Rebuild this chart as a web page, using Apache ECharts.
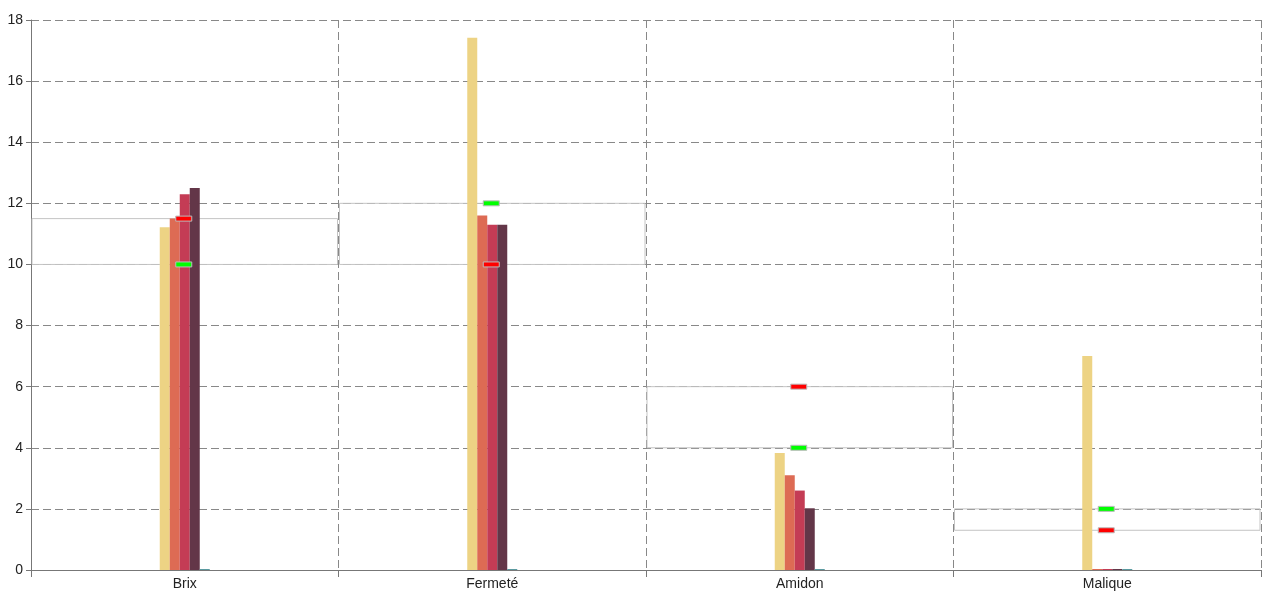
<!DOCTYPE html>
<html>
<head>
<meta charset="utf-8">
<script src="https://cdn.jsdelivr.net/npm/echarts@6/dist/echarts.min.js"></script>
<style>html,body{margin:0;padding:0;background:#fff}#c{width:1280px;height:600px}</style>
</head>
<body>
<div id="c"></div>
<script>
const categories = ['Brix', 'Fermeté', 'Amidon', 'Malique'];
const series1 = [11.22, 17.42, 3.83, 7.0];
const series2 = [11.5, 11.6, 3.1, 0];
const series3 = [12.3, 11.3, 2.6, 0];
const series4 = [12.5, 11.3, 2.02, 0];
const series5 = [0, 0, 0, 0];
const greenMarks = [10, 12, 4, 2];
const redMarks = [11.5, 10, 6, 1.3];
const colors = ['#EDD384', '#DD6B54', '#C43C55', '#633648', '#5B9AA0'];

const chart = echarts.init(document.getElementById('c'), null, {renderer: 'canvas'});
const barSeries = [series1, series2, series3, series4, series5].map((d, i) => ({
  type: 'bar', data: d, barWidth: 10, barGap: 0, barMinHeight: 1,
  itemStyle: {color: colors[i]}, z: 2, animation: false
}));
const boxData = categories.map((c, i) => [i, greenMarks[i], redMarks[i]]);

option = {
  animation: false,
  textStyle: {fontFamily: 'Liberation Sans, Arial, sans-serif'},
  grid: {left: 31, right: 19, top: 20, bottom: 30},
  xAxis: {
    type: 'category', data: categories, boundaryGap: true,
    axisLine: {lineStyle: {color: '#777'}},
    axisTick: {show: true, length: 7, lineStyle: {color: '#777'}},
    axisLabel: {color: '#222', fontSize: 14, margin: 7},
    splitLine: {show: true, lineStyle: {color: '#888', type: [8, 4]}}
  },
  yAxis: {
    type: 'value', min: 0, max: 18, interval: 2,
    axisLine: {show: true, lineStyle: {color: '#777'}},
    axisTick: {show: true, length: 5, lineStyle: {color: '#777'}},
    axisLabel: {color: '#222', fontSize: 14, margin: 8},
    splitLine: {show: true, lineStyle: {color: '#888', type: [8, 4]}}
  },
  series: barSeries.concat([
    {
      type: 'custom', z: 1, data: boxData, silent: true,
      renderItem: function (params, api) {
        const idx = api.value(0);
        const bw = api.size([1, 0])[0];
        const p1 = api.coord([idx, api.value(1)]);
        const p2 = api.coord([idx, api.value(2)]);
        const top = Math.min(p1[1], p2[1]);
        const h = Math.abs(p1[1] - p2[1]);
        return {
          type: 'rect',
          shape: {x: p1[0] - bw / 2 + 1, y: top, width: bw - 2, height: h},
          style: {fill: 'none', stroke: '#c4c4c4', lineWidth: 1}
        };
      }
    },
    {
      type: 'custom', z: 5, data: boxData, silent: true,
      renderItem: function (params, api) {
        const idx = api.value(0);
        const pg = api.coord([idx, api.value(1)]);
        const pr = api.coord([idx, api.value(2)]);
        return {
          type: 'group',
          children: [
            {type: 'rect', shape: {x: pg[0] - 9, y: pg[1] - 2.5, width: 16, height: 5},
             style: {fill: '#00FF00', stroke: '#bbbbbb', lineWidth: 1}},
            {type: 'rect', shape: {x: pr[0] - 9, y: pr[1] - 2.5, width: 16, height: 5},
             style: {fill: '#FF0000', stroke: '#bbbbbb', lineWidth: 1}}
          ]
        };
      }
    }
  ])
};
chart.setOption(option);
</script>
</body>
</html>
